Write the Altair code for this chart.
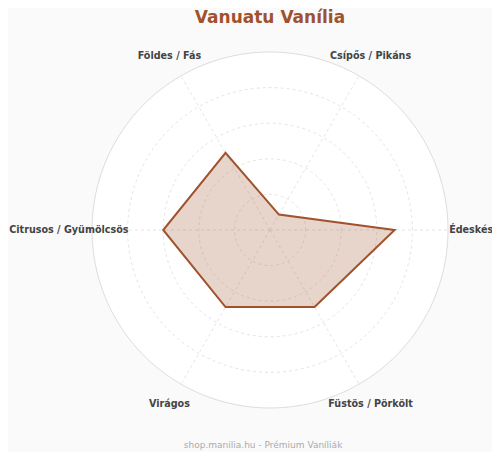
import altair as alt
import pandas as pd

# ---- data ----
categories = ["Édeskés", "Csípős / Pikáns", "Földes / Fás",
              "Citrusos / Gyümölcsös", "Virágos", "Füstös / Pörkölt"]
values = [7, 1, 5, 6, 5, 5]
angles_deg = [0, 60, 120, 180, 240, 300]
ring_levels = [2, 4, 6, 8]
outer_level = [10]
title_text = "Vanuatu Vanília"
footer_text = "shop.manilia.hu - Prémium Vaníliák"

SIENNA = "#a0522d"
GRID = "#dddddd"
LABEL_R = 11.3

df = pd.DataFrame({"cat": categories, "value": values,
                   "angle": angles_deg, "idx": list(range(len(categories)))})

xs = alt.Scale(domain=[-14.72, 12.47])
ys = alt.Scale(domain=[-12.472, 10.674])
X = alt.X("x:Q", scale=xs, axis=None)
Y = alt.Y("y:Q", scale=ys, axis=None)


def circle_layer(levels, **mark_kw):
    return alt.Chart(pd.DataFrame({"r": levels})).transform_calculate(
        deg="sequence(0, 360, 2)"
    ).transform_flatten(["deg"]).transform_calculate(
        x="datum.r * cos(datum.deg * PI / 180)",
        y="datum.r * sin(datum.deg * PI / 180)",
    ).mark_line(interpolate="linear-closed", **mark_kw).encode(
        x=X, y=Y, detail="r:N", order="deg:Q"
    )


disk = circle_layer(outer_level, stroke=GRID, strokeWidth=1, fill="white")
rings = circle_layer(ring_levels, stroke=GRID, strokeWidth=0.8,
                     strokeDash=[3, 3])

base = alt.Chart(df).transform_calculate(rad="datum.angle * PI / 180")

spokes = base.transform_calculate(
    x="0", y="0", x2="10 * cos(datum.rad)", y2="10 * sin(datum.rad)"
).mark_rule(stroke=GRID, strokeWidth=0.8, strokeDash=[3, 3]).encode(
    x=X, y=Y, x2="x2:Q", y2="y2:Q",
)

polygon = base.transform_calculate(
    x="datum.value * cos(datum.rad)", y="datum.value * sin(datum.rad)"
).mark_line(
    interpolate="linear-closed", stroke=SIENNA, strokeWidth=2,
    fill=SIENNA, fillOpacity=0.25
).encode(x=X, y=Y, order="idx:Q")

labels = base.transform_calculate(
    x=f"{LABEL_R} * cos(datum.rad)", y=f"{LABEL_R} * sin(datum.rad)"
).mark_text(
    font="DejaVu Sans", fontSize=9.6, fontWeight="bold", color="#444444",
    align="center", baseline="middle"
).encode(x=X, y=Y, text="cat:N")

footer = alt.Chart(pd.DataFrame({"t": [footer_text]})).transform_calculate(
    x="-0.39", y="-12.08"
).mark_text(
    font="DejaVu Sans", fontSize=9, color="#aaaaaa", align="center",
    baseline="middle"
).encode(x=X, y=Y, text="t:N")

chart = alt.layer(disk, rings, spokes, polygon, labels, footer).properties(
    width=484, height=412,
    title=alt.TitleParams(title_text, anchor="middle", dx=20, fontSize=17,
                          font="DejaVu Sans", fontWeight="bold", color=SIENNA,
                          offset=13),
    autosize=alt.AutoSizeParams(type="none"),
    padding={"top": 32, "left": 0, "right": 0, "bottom": 0},
    background="#fafafa",
).configure_view(stroke=None)

chart.save("out.html", embed_options={"renderer": "svg", "actions": False})
